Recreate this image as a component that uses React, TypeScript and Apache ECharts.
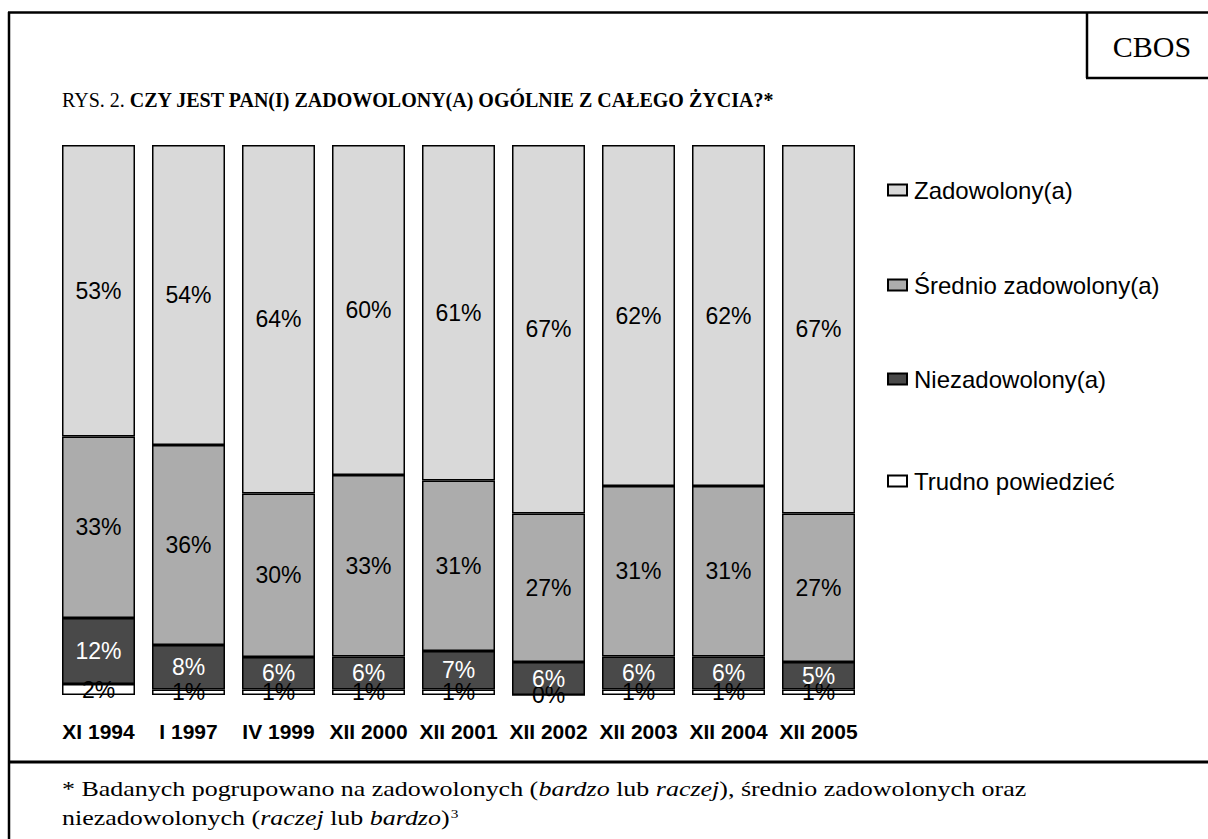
import React, { useEffect, useRef } from "react";
import * as echarts from "echarts";

const categories = ["XI 1994", "I 1997", "IV 1999", "XII 2000", "XII 2001", "XII 2002", "XII 2003", "XII 2004", "XII 2005"];
const zadowolony = [53, 54, 64, 60, 61, 67, 62, 62, 67];
const srednio = [33, 36, 30, 33, 31, 27, 31, 31, 27];
const niezadowolony = [12, 8, 6, 6, 7, 6, 6, 6, 5];
const trudno = [2, 1, 1, 1, 1, 0, 1, 1, 1];

const seriesNames = ["Zadowolony(a)", "Średnio zadowolony(a)", "Niezadowolony(a)", "Trudno powiedzieć"];
const titlePrefix = "RYS. 2. ";
const titleMain = "CZY JEST PAN(I) ZADOWOLONY(A) OGÓLNIE Z CAŁEGO ŻYCIA?*";

const SANS = "'Liberation Sans', Arial, sans-serif";
const SERIF = "'Liberation Serif', 'Times New Roman', serif";

export default function App() {
  const ref = useRef<HTMLDivElement>(null);
  useEffect(() => {
    if (!ref.current) return;
    const chart = echarts.init(ref.current, undefined, { renderer: "svg" });
    const totals = categories.map((_, i) => zadowolony[i] + srednio[i] + niezadowolony[i] + trudno[i]);
    const share = (arr: number[]) => arr.map((v, i) => ({ value: (v / totals[i]) * 100, raw: v }));

    const mk = (name: string, arr: number[], color: string, labelColor: string) => ({
      name,
      type: "bar",
      stack: "all",
      barWidth: 73,
      data: share(arr),
      itemStyle: { color, borderColor: "#000", borderWidth: 1.5 },
      label: {
        show: true,
        position: "inside",
        color: labelColor,
        fontFamily: SANS,
        fontSize: 23,
        formatter: (p: any) => `${p.data.raw}%`,
      },
    });

    const legendText = { fontFamily: SANS, fontSize: 24, color: "#000", padding: [0, 0, 0, 2] };
    const legendTops = [178, 273, 367, 469];

    chart.setOption({
      animation: false,
      backgroundColor: "#fff",
      grid: { left: 53.5, width: 810, top: 145, bottom: 144, containLabel: false },
      xAxis: {
        type: "category",
        data: categories,
        axisLine: { show: false },
        axisTick: { show: false },
        axisLabel: { margin: 26, fontFamily: SANS, fontWeight: "bold", fontSize: 21, color: "#000", interval: 0 },
      },
      yAxis: { type: "value", min: 0, max: 100, show: false, splitLine: { show: false } },
      legend: seriesNames.map((n, i) => ({
        data: [n],
        left: 887,
        top: legendTops[i],
        padding: 0,
        orient: "vertical",
        icon: "rect",
        itemWidth: 19,
        itemHeight: 11,
        textStyle: legendText,
        selectedMode: false,
      })),
      series: [
        mk(seriesNames[3], trudno, "#ffffff", "#000"),
        mk(seriesNames[2], niezadowolony, "#494949", "#fff"),
        mk(seriesNames[1], srednio, "#acacac", "#000"),
        mk(seriesNames[0], zadowolony, "#d9d9d9", "#000"),
      ],
      graphic: [
        { type: "line", shape: { x1: 9, y1: 12, x2: 9, y2: 839 }, style: { stroke: "#000", lineWidth: 2.5 } },
        { type: "line", shape: { x1: 8, y1: 12.5, x2: 1208, y2: 12.5 }, style: { stroke: "#000", lineWidth: 2.5 } },
        { type: "line", shape: { x1: 8, y1: 762, x2: 1208, y2: 762 }, style: { stroke: "#000", lineWidth: 3 } },
        { type: "line", shape: { x1: 1087, y1: 12, x2: 1087, y2: 78 }, style: { stroke: "#000", lineWidth: 2.5 } },
        { type: "line", shape: { x1: 1086, y1: 78, x2: 1208, y2: 78 }, style: { stroke: "#000", lineWidth: 2.5 } },
        {
          type: "text",
          x: 1152,
          y: 46,
          style: { text: "CBOS", font: `30px ${SERIF}`, fill: "#000", align: "center", verticalAlign: "middle" },
        },
        {
          type: "text",
          x: 62,
          y: 100,
          style: {
            text: `{a|${titlePrefix}}{b|${titleMain}}`,
            verticalAlign: "middle",
            rich: {
              a: { fontFamily: SERIF, fontSize: 20, color: "#000" },
              b: { fontFamily: SERIF, fontSize: 20, fontWeight: "bold", color: "#000" },
            },
          },
        },
        {
          type: "text",
          x: 62,
          y: 789,
          scaleX: 1.18,
          style: {
            text: "{n|* Badanych pogrupowano na zadowolonych (}{i|bardzo}{n| lub }{i|raczej}{n|), średnio zadowolonych oraz}",
            verticalAlign: "middle",
            rich: {
              n: { fontFamily: SERIF, fontSize: 22, color: "#000" },
              i: { fontFamily: SERIF, fontSize: 22, fontStyle: "italic", color: "#000" },
            },
          },
        },
        {
          type: "text",
          x: 62,
          y: 818,
          scaleX: 1.18,
          style: {
            text: "{n|niezadowolonych (}{i|raczej}{n| lub }{i|bardzo}{n|)}{s|3}",
            verticalAlign: "middle",
            rich: {
              n: { fontFamily: SERIF, fontSize: 22, color: "#000" },
              i: { fontFamily: SERIF, fontSize: 22, fontStyle: "italic", color: "#000" },
              s: { fontFamily: SERIF, fontSize: 13, color: "#000", verticalAlign: "top", padding: [0, 0, 10, 1] },
            },
          },
        },
      ],
    });
    return () => chart.dispose();
  }, []);
  return <div ref={ref} style={{ position: "absolute", left: 0, top: 0, width: 1208, height: 839 }} />;
}
